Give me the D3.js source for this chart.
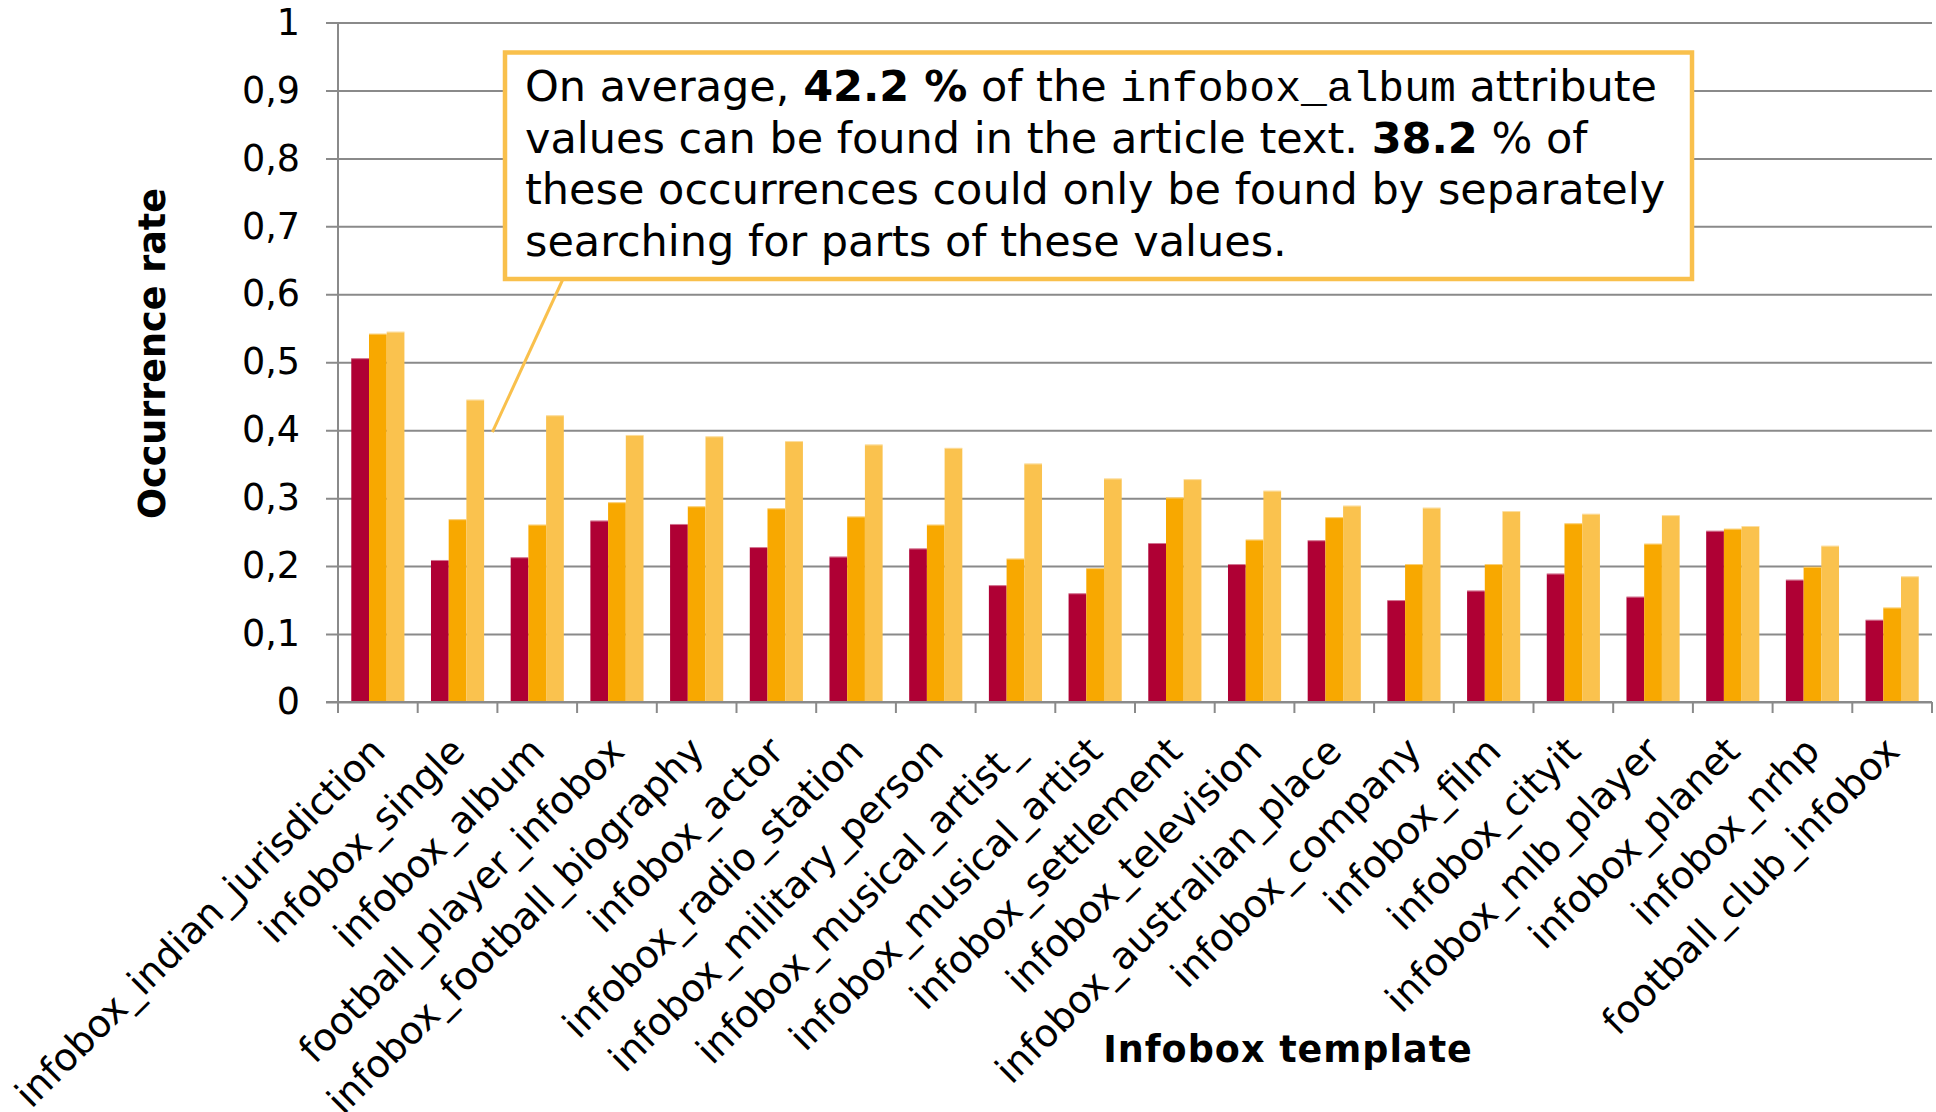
<!DOCTYPE html>
<html>
<head>
<meta charset="utf-8">
<script src="https://cdn.jsdelivr.net/npm/d3@7/dist/d3.min.js"></script>
<style>
  html, body { margin: 0; padding: 0; background: #fff; }
  svg { display: block; }
</style>
</head>
<body>
<script>
// Infobox templates on the x axis
const categories = [
  "infobox_indian_jurisdiction", "infobox_single", "infobox_album",
  "football_player_infobox", "infobox_football_biography", "infobox_actor",
  "infobox_radio_station", "infobox_military_person", "infobox_musical_artist_",
  "infobox_musical_artist", "infobox_settlement", "infobox_television",
  "infobox_australian_place", "infobox_company", "infobox_film",
  "infobox_cityit", "infobox_mlb_player", "infobox_planet",
  "infobox_nrhp", "football_club_infobox"
];

// Occurrence rates, three series per template
const seriesA = [0.506, 0.209, 0.213, 0.267, 0.262, 0.228, 0.214, 0.226, 0.172, 0.160,
                 0.234, 0.203, 0.238, 0.150, 0.164, 0.189, 0.155, 0.252, 0.180, 0.121];
const seriesB = [0.542, 0.269, 0.261, 0.294, 0.288, 0.285, 0.273, 0.261, 0.211, 0.197,
                 0.301, 0.239, 0.272, 0.203, 0.203, 0.263, 0.233, 0.255, 0.199, 0.139];
const seriesC = [0.545, 0.445, 0.422, 0.393, 0.391, 0.384, 0.379, 0.374, 0.351, 0.329,
                 0.328, 0.311, 0.289, 0.286, 0.281, 0.277, 0.275, 0.259, 0.230, 0.185];

const yTicks = [0, 0.1, 0.2, 0.3, 0.4, 0.5, 0.6, 0.7, 0.8, 0.9, 1];

const seriesColors = ["#AF0034", "#F8A800", "#FAC24E"];
const accent = "#F9C04C";
const gridColor = "#8A8A8A";

const W = 1936, H = 1112;
const plot = { left: 338, right: 1932, top: 22.5, bottom: 702 };

const svg = d3.select("body").append("svg")
  .attr("width", W).attr("height", H)
  .attr("viewBox", `0 0 ${W} ${H}`);

const x = d3.scaleBand().domain(categories)
  .range([plot.left, plot.right]).paddingInner(0).paddingOuter(0);

const xSeries = d3.scaleBand().domain([0, 1, 2])
  .range([0, x.bandwidth()]).paddingInner(0).paddingOuter(0.75);

const y = d3.scaleLinear().domain([0, 1]).range([plot.bottom, plot.top]);

const locale = d3.formatLocale({ decimal: ",", thousands: ".", grouping: [3], currency: ["", ""] });
const fmt = locale.format(".1~f");

// horizontal gridlines + left axis
const yAxis = d3.axisLeft(y).tickValues(yTicks).tickSize(12).tickPadding(26).tickFormat(fmt);
const gy = svg.append("g").attr("transform", `translate(${plot.left},0)`).call(yAxis);
gy.select(".domain").remove();
gy.selectAll(".tick line").attr("stroke", gridColor).attr("stroke-width", 2)
  .attr("x2", plot.right - plot.left).attr("x1", -12);
gy.selectAll(".tick text")
  .attr("fill", "#000")
  .style("font-family", "'DejaVu Sans', Verdana, sans-serif")
  .style("font-size", "36.5px");

// vertical axis line
svg.append("line")
  .attr("x1", plot.left).attr("x2", plot.left)
  .attr("y1", y(1)).attr("y2", y(0))
  .attr("stroke", gridColor).attr("stroke-width", 2);

// bars
const rows = categories.map((c, i) => ({ c, v: [seriesA[i], seriesB[i], seriesC[i]] }));
const groups = svg.append("g").selectAll("g").data(rows).join("g")
  .attr("transform", d => `translate(${x(d.c)},0)`);
groups.selectAll("rect").data(d => d.v.map((v, k) => ({ v, k }))).join("rect")
  .attr("x", d => xSeries(d.k))
  .attr("width", xSeries.bandwidth())
  .attr("y", d => y(d.v))
  .attr("height", d => y(0) - y(d.v))
  .attr("fill", d => seriesColors[d.k]);
// light rim along the top of each bar
groups.selectAll("line.rim").data(d => d.v.map((v, k) => ({ v, k }))).join("line")
  .attr("class", "rim")
  .attr("x1", d => xSeries(d.k)).attr("x2", d => xSeries(d.k) + xSeries.bandwidth())
  .attr("y1", d => y(d.v) + 0.5).attr("y2", d => y(d.v) + 0.5)
  .attr("stroke", "#fff").attr("stroke-opacity", 0.45).attr("stroke-width", 1);

// bottom axis line and boundary ticks
svg.append("line")
  .attr("x1", plot.left - 12).attr("x2", plot.right)
  .attr("y1", y(0)).attr("y2", y(0))
  .attr("stroke", gridColor).attr("stroke-width", 2);
const bounds = categories.map(c => x(c)).concat([plot.right]);
svg.append("g").selectAll("line").data(bounds).join("line")
  .attr("x1", d => d).attr("x2", d => d)
  .attr("y1", y(0)).attr("y2", y(0) + 11)
  .attr("stroke", gridColor).attr("stroke-width", 2);

// rotated category labels
svg.append("g").selectAll("text").data(categories).join("text")
  .attr("transform", d => `translate(${x(d) + x.bandwidth() / 2},${y(0) + 42}) rotate(-45)`)
  .attr("text-anchor", "end")
  .attr("dy", "0.35em")
  .style("font-family", "'DejaVu Sans', Verdana, sans-serif")
  .style("font-size", "38px")
  .attr("fill", "#000")
  .text(d => d);

// axis titles
svg.append("text")
  .attr("transform", `translate(165,${(187 + 520) / 2}) rotate(-90)`)
  .attr("text-anchor", "middle")
  .style("font-family", "'DejaVu Sans', Verdana, sans-serif")
  .style("font-size", "36.5px").style("font-weight", "bold")
  .text("Occurrence rate");

svg.append("text")
  .attr("x", 1288).attr("y", 1062)
  .attr("text-anchor", "middle")
  .style("font-family", "'DejaVu Sans', Verdana, sans-serif")
  .style("font-size", "36.5px").style("font-weight", "bold")
  .style("letter-spacing", "1px")
  .text("Infobox template");

// callout pointing at the infobox_album group
const box = { x: 505, y: 52.5, w: 1187, h: 226.5 };
const tip = { x: x("infobox_album") - 5, y: y(0.4) + 2 };
svg.append("line")
  .attr("x1", 563).attr("y1", box.y + box.h)
  .attr("x2", tip.x).attr("y2", tip.y)
  .attr("stroke", accent).attr("stroke-width", 3);
svg.append("rect")
  .attr("x", box.x).attr("y", box.y).attr("width", box.w).attr("height", box.h)
  .attr("fill", "#fff").attr("stroke", accent).attr("stroke-width", 4.5);

const noteLines = [
  [["On average, ", "n"], ["42.2 %", "b"], [" of the ", "n"], ["infobox_album", "m"], [" attribute", "n"]],
  [["values can be found in the article text. ", "n"], ["38.2", "b"], [" % of", "n"]],
  [["these occurrences could only be found by separately", "n"]],
  [["searching for parts of these values.", "n"]]
];
const note = svg.append("text")
  .style("font-family", "'DejaVu Sans', Verdana, sans-serif")
  .style("font-size", "43px")
  .style("white-space", "pre")
  .attr("fill", "#000");
noteLines.forEach((line, li) => {
  line.forEach(([t, kind], si) => {
    const ts = note.append("tspan").text(t);
    if (si === 0) ts.attr("x", 525).attr("y", 101 + li * 51.7);
    if (kind === "b") ts.style("font-weight", "bold");
    if (kind === "m") ts.style("font-family", "'Liberation Mono', 'Courier New', monospace");
  });
});
</script>
</body>
</html>
